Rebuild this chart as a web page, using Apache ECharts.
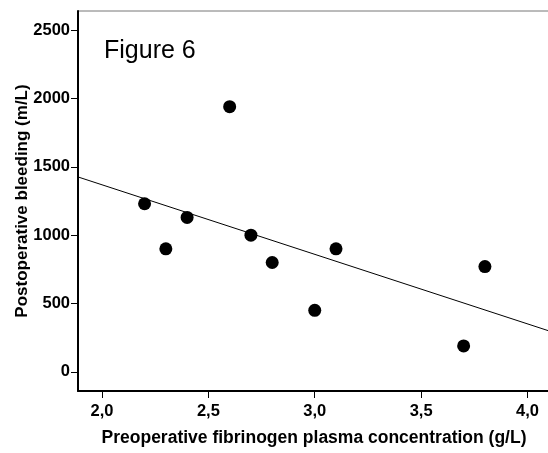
<!DOCTYPE html>
<html><head><meta charset="utf-8">
<script src="https://cdn.jsdelivr.net/npm/echarts@6/dist/echarts.min.js"></script>
<style>html,body{margin:0;padding:0;background:#fff}#c{width:548px;height:453px}</style>
</head><body><div id="c"></div>
<script>
const fibrinogen = [2.2, 2.3, 2.4, 2.6, 2.7, 2.8, 3.0, 3.1, 3.7, 3.8];
const bleeding = [1230, 900, 1130, 1940, 1000, 800, 450, 900, 190, 770];
const xTicks = [2.0, 2.5, 3.0, 3.5, 4.0];
const yTicks = [0, 500, 1000, 1500, 2000, 2500];
const xMin = 1.887, xMax = 4.106, yMin = -140, yMax = 2640;

// least squares fit
const n = fibrinogen.length;
const mx = fibrinogen.reduce((a,b)=>a+b,0)/n;
const my = bleeding.reduce((a,b)=>a+b,0)/n;
let sxy=0, sxx=0;
for (let i=0;i<n;i++){ sxy+=(fibrinogen[i]-mx)*(bleeding[i]-my); sxx+=(fibrinogen[i]-mx)**2; }
const slope = sxy/sxx, icpt = my - slope*mx;
const fitLine = [[xMin, icpt+slope*xMin],[xMax, icpt+slope*xMax]];

const chart = echarts.init(document.getElementById('c'));
const font = 'Liberation Sans, Arial, sans-serif';
chart.setOption({
  animation:false,
  grid:{left:78,right:-2,top:11,bottom:62,show:true,borderColor:'#777',borderWidth:1,
    backgroundColor:'transparent',containLabel:false,outerBoundsMode:'none'},
  title:{text:'Figure 6',left:99,top:34,textStyle:{fontFamily:font,fontSize:25,fontWeight:'normal',color:'#000'}},
  xAxis:{type:'value',min:xMin,max:xMax,
    name:'Preoperative fibrinogen plasma concentration (g/L)',nameLocation:'middle',nameGap:38,
    nameMoveOverlap:false,
    nameTextStyle:{fontFamily:font,fontSize:17.5,fontWeight:'bold',color:'#000'},
    axisLine:{show:true,onZero:false,lineStyle:{color:'#000',width:2}},
    axisTick:{show:true,length:7,lineStyle:{color:'#000',width:1},customValues:xTicks},
    axisLabel:{fontFamily:font,fontSize:16.5,fontWeight:'bold',color:'#000',margin:12,
      customValues:xTicks,formatter:v=>v.toFixed(1).replace('.',',')},
    splitLine:{show:false}},
  yAxis:{type:'value',min:yMin,max:yMax,
    name:'Postoperative bleeding (m/L)',nameLocation:'middle',nameGap:47,
    nameMoveOverlap:false,
    nameTextStyle:{fontFamily:font,fontSize:17,fontWeight:'bold',color:'#000'},
    axisLine:{show:true,onZero:false,lineStyle:{color:'#000',width:2}},
    axisTick:{show:true,length:7,lineStyle:{color:'#000',width:1},customValues:yTicks},
    axisLabel:{fontFamily:font,fontSize:16.5,fontWeight:'bold',color:'#000',margin:8,
      customValues:yTicks,formatter:v=>String(v)},
    splitLine:{show:false}},
  series:[
    {type:'line',data:fitLine,symbol:'none',lineStyle:{color:'#000',width:1},silent:true,z:1},
    {type:'scatter',data:fibrinogen.map((x,i)=>[x,bleeding[i]]),symbolSize:13,
      itemStyle:{color:'#000',opacity:1},z:2}
  ]
});
</script></body></html>
